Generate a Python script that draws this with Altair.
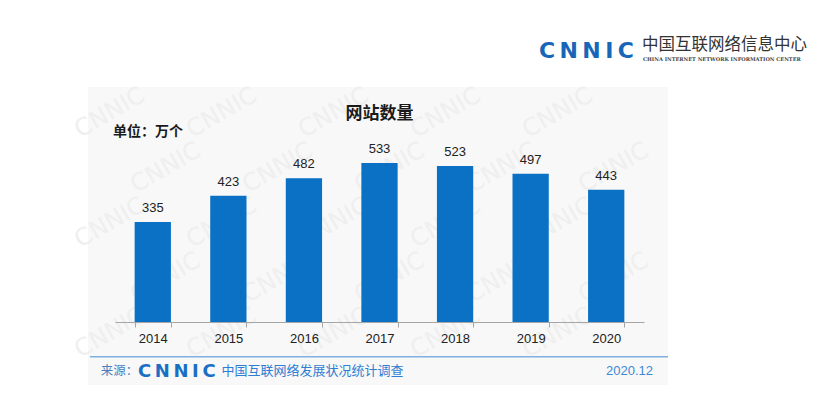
import altair as alt
import pandas as pd

years = ["2014", "2015", "2016", "2017", "2018", "2019", "2020"]
values = [335, 423, 482, 533, 523, 497, 443]

title_text = "网站数量"
unit_text = "单位：万个"
source_label = "来源："
source_name = "中国互联网络发展状况统计调查"
date_text = "2020.12"
org_cn = "中国互联网络信息中心"
org_en = "CHINA INTERNET NETWORK INFORMATION CENTER"

W, H = 529, 179
df = pd.DataFrame({"year": years, "value": values})
one = pd.DataFrame({"k": [0]})

xscale = alt.Scale(paddingInner=0.52, paddingOuter=0.26)
yscale = alt.Scale(domain=[0, 600], nice=False)

xenc = alt.X("year:N", sort=years, title=None, scale=xscale,
             axis=alt.Axis(labelAngle=0, tickBand="extent", domainColor="#a6a6a6",
                           tickColor="#a6a6a6", tickSize=5, labelFontSize=13,
                           labelFont="Liberation Sans", labelColor="#222222",
                           labelPadding=5, domainWidth=1, grid=False, zindex=1))
yenc = alt.Y("value:Q", scale=yscale, axis=None)

panel = alt.Chart(one).mark_rect(color="#f8f8f8").encode(
    x=alt.value(-27), x2=alt.value(553), y=alt.value(-56), y2=alt.value(242))

# faint watermark grid (decoration)
gx, gy = [], []
for j in range(5):
    for i in range(6):
        gx.append(-5 + 112 * i + (56 if j % 2 else 0))
        gy.append(-30 + 55 * j)
wm_df = pd.DataFrame({"px": gx, "py": gy})
wm_df = wm_df[(wm_df.px < 545)]
watermark = alt.Chart(wm_df).mark_text(text="CNNIC", font="DejaVu Sans",
                                        fontSize=24, angle=330, color="#efefef").encode(
    x=alt.X("px:Q", scale=None, axis=None), y=alt.Y("py:Q", scale=None, axis=None))

bars = alt.Chart(df).mark_bar(color="#0a71c5").encode(x=xenc, y=yenc)
labels = alt.Chart(df).mark_text(font="Liberation Sans", fontSize=13, color="#222222",
                                 baseline="alphabetic", dy=-10).encode(
    x=alt.X("year:N", sort=years, scale=xscale, axis=None),
    y=alt.Y("value:Q", scale=yscale, axis=None), text="value:Q")

def txt(s, x, y, **kw):
    return alt.Chart(one).mark_text(text=s, **kw).encode(x=alt.value(x), y=alt.value(y))

title = txt(title_text, 264.5, -29, font="Noto Sans CJK SC", fontSize=17, fontWeight="bold",
            color="#1a1a1a", baseline="middle", align="center")
unit = txt(unit_text, -2, -11, font="Noto Sans CJK SC", fontSize=14, fontWeight="bold",
           color="#1a1a1a", baseline="middle", align="left")

logo = txt("C\u2009N\u2009N\u2009I\u2009C", 424, -84.7, font="DejaVu Sans", fontSize=22,
           fontWeight="bold", color="#1766b8", baseline="alphabetic", align="left")
cn = txt(org_cn, 527, -98, font="Noto Sans CJK SC", fontSize=16.5, color="#333333",
         baseline="middle", align="left")
en = txt(org_en, 528, -84, font="DejaVu Serif", fontSize=5.1, fontWeight="bold",
         color="#444444", baseline="middle", align="left")

fline = alt.Chart(one).mark_rule(color="#7fb0e0", strokeWidth=1.5).encode(
    x=alt.value(-25), x2=alt.value(553), y=alt.value(213.7))
src = txt(source_label, -14.3, 228, font="Noto Sans CJK SC", fontSize=12.5, color="#4a7fc0",
          baseline="middle", align="left")
flogo = txt("C\u2009N\u2009N\u2009I\u2009C", 23, 233.7, font="DejaVu Sans", fontSize=18,
            fontWeight="bold", color="#1a6fc4", baseline="alphabetic", align="left")
sname = txt(source_name, 106.5, 228, font="Noto Sans CJK SC", fontSize=13, color="#2f7ed3",
            baseline="middle", align="left")
date = txt(date_text, 538, 228, font="Liberation Sans", fontSize=13, color="#3a8ad6",
           baseline="middle", align="right")

chart = alt.layer(panel, watermark, bars, labels, title, unit, logo, cn, en,
                  fline, src, flogo, sname, date).resolve_scale(
    x="independent", y="independent").properties(
    width=W, height=H,
    autosize=alt.AutoSizeParams(type="none"),
    padding={"left": 107, "top": 135, "right": 168, "bottom": 67},
    background="white",
).configure_view(stroke=None)

chart.save("out.html", embed_options={"renderer": "svg", "actions": False})
